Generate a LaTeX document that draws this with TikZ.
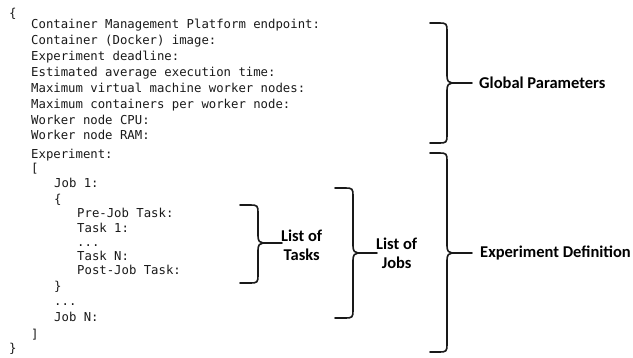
\documentclass[tikz,border=0pt]{standalone}
\usepackage{fontspec}
\setmonofont{DejaVu Sans Mono}
\newfontfamily\lblfont{Carlito}
\tikzset{
  code/.style={anchor=base west, inner sep=0pt, font=\ttfamily\fontsize{12.3}{15}\selectfont, text=black!90},
  lbl/.style={font=\lblfont\bfseries\fontsize{16.5}{19}\selectfont, inner sep=0pt, text=black},
  lbl2/.style={lbl, align=center},
  bracestyle/.style={line width=1.6pt, line join=round, line cap=round, black!90},
}
\newcommand\mybrace[7]{% name, tipx, vx, top, mid, bot, endx
  \coordinate (#1t) at (#2,#4);
  \coordinate (#1b) at (#2,#6);
  \coordinate (#1c) at ({#3+5},#5);
  \coordinate (#1e) at (#7,#5);
  \draw[bracestyle] (#1t) -- ({#3-7},#4) .. controls ({#3-1},#4) and (#3,{#4+1}) .. (#3,{#4+7})
     -- (#3,{#5-7}) .. controls (#3,{#5-2}) and ({#3+2},#5) .. (#1c)
     .. controls ({#3+2},#5) and (#3,{#5+2}) .. (#3,{#5+7})
     -- (#3,{#6-7}) .. controls (#3,{#6-1}) and ({#3-1},#6) .. ({#3-7},#6) -- (#1b);
  \draw[bracestyle] (#1c) -- (#1e);
}
\begin{document}
\begin{tikzpicture}[x=1pt,y=-1pt]
\useasboundingbox (0,0) rectangle (633,357);
% code text
\node[code] (c0) at (9,17) {\{};
\node[code] (c1) at (31,28) {Container Management Platform endpoint:};
\node[code] (c2) at (31,44) {Container (Docker) image:};
\node[code] (c3) at (31,60) {Experiment deadline:};
\node[code] (c4) at (31,76) {Estimated average execution time:};
\node[code] (c5) at (31,92) {Maximum virtual machine worker nodes:};
\node[code] (c6) at (31,108) {Maximum containers per worker node:};
\node[code] (c7) at (31,124) {Worker node CPU:};
\node[code] (c8) at (31,139) {Worker node RAM:};
\node[code] (c9) at (31,158) {Experiment:};
\node[code] (c10) at (31,172) {[};
\node[code] (c11) at (54,187) {Job 1:};
\node[code] (c12) at (54,203) {\{};
\node[code] (c13) at (77,217) {Pre-Job Task:};
\node[code] (c14) at (77,232) {Task 1:};
\node[code] (c15) at (77,246) {...};
\node[code] (c16) at (77,260) {Task N:};
\node[code] (c17) at (77,274) {Post-Job Task:};
\node[code] (c18) at (54,290) {\}};
\node[code] (c19) at (54,305) {...};
\node[code] (c20) at (54,321) {Job N:};
\node[code] (c21) at (31,338) {]};
\node[code] (c22) at (9,352) {\}};
% braces
\mybrace{gp}{430}{447}{23}{83}{143}{472}
\mybrace{ed}{430}{447}{153}{253}{352}{472}
\mybrace{lj}{335}{353}{188}{253}{318}{377}
\mybrace{lt}{240}{258}{205}{243}{283}{282}
% labels
\node[lbl, anchor=west] (gpl) at (479,83) {Global Parameters};
\node[lbl, anchor=west] (edl) at (480,253) {Experiment Definition};
\node[lbl2, anchor=west] (ljl) at (376,253) {List of\\Jobs};
\node[lbl2, anchor=west] (ltl) at (281,245) {List of\\Tasks};
\end{tikzpicture}
\end{document}
